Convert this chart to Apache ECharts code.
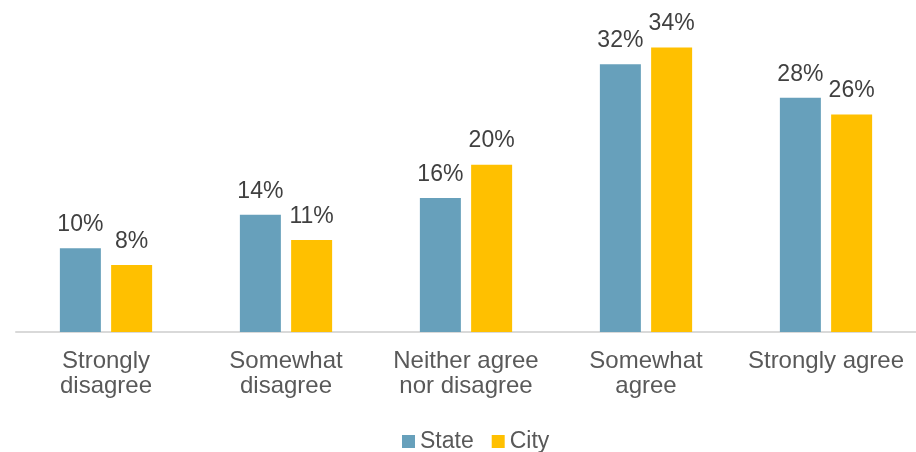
<!DOCTYPE html>
<html>
<head>
<meta charset="utf-8">
<script src="https://cdn.jsdelivr.net/npm/echarts@6/dist/echarts.min.js"></script>
<style>
  html, body { margin: 0; padding: 0; background: #ffffff; }
  #chart { width: 916px; height: 452px; }
</style>
</head>
<body>
<div id="chart"></div>
<script>
// Survey responses, share of respondents (%)
const categories = [
  'Strongly\ndisagree',
  'Somewhat\ndisagree',
  'Neither agree\nnor disagree',
  'Somewhat\nagree',
  'Strongly agree'
];
const stateValues = [10, 14, 16, 32, 28];
const cityValues = [8, 11, 20, 34, 26];

const FONT = '"Liberation Sans", Arial, Helvetica, sans-serif';

const valueLabel = {
  show: true,
  position: 'top',
  distance: 12,
  formatter: p => p.value + '%',
  fontFamily: FONT,
  fontSize: 23,
  color: '#404040'
};

const chart = echarts.init(document.getElementById('chart'), null, { renderer: 'canvas' });
chart.setOption({
  animation: false,
  backgroundColor: '#ffffff',
  grid: { left: 16, right: 0, top: 14, bottom: 120 },
  legend: {
    data: ['State', 'City'],
    left: 397,
    top: 425,
    icon: 'rect',
    itemWidth: 13,
    itemHeight: 13,
    itemGap: 18,
    textStyle: { fontFamily: FONT, fontSize: 23, color: '#595959' }
  },
  xAxis: {
    type: 'category',
    data: categories,
    axisLine: { show: true, lineStyle: { color: '#d9d9d9', width: 2 } },
    axisTick: { show: false },
    axisLabel: {
      interval: 0,
      margin: 17,
      fontFamily: FONT,
      fontSize: 24,
      lineHeight: 25,
      color: '#595959'
    }
  },
  yAxis: {
    type: 'value',
    min: 0,
    max: 38,
    show: false,
    splitLine: { show: false }
  },
  series: [
    {
      name: 'State',
      type: 'bar',
      data: stateValues,
      barWidth: 41,
      barGap: '25%',
      itemStyle: { color: '#67a0bb' },
      label: valueLabel
    },
    {
      name: 'City',
      type: 'bar',
      data: cityValues,
      barWidth: 41,
      barGap: '25%',
      itemStyle: { color: '#ffc000' },
      label: valueLabel
    }
  ]
});
</script>
</body>
</html>
